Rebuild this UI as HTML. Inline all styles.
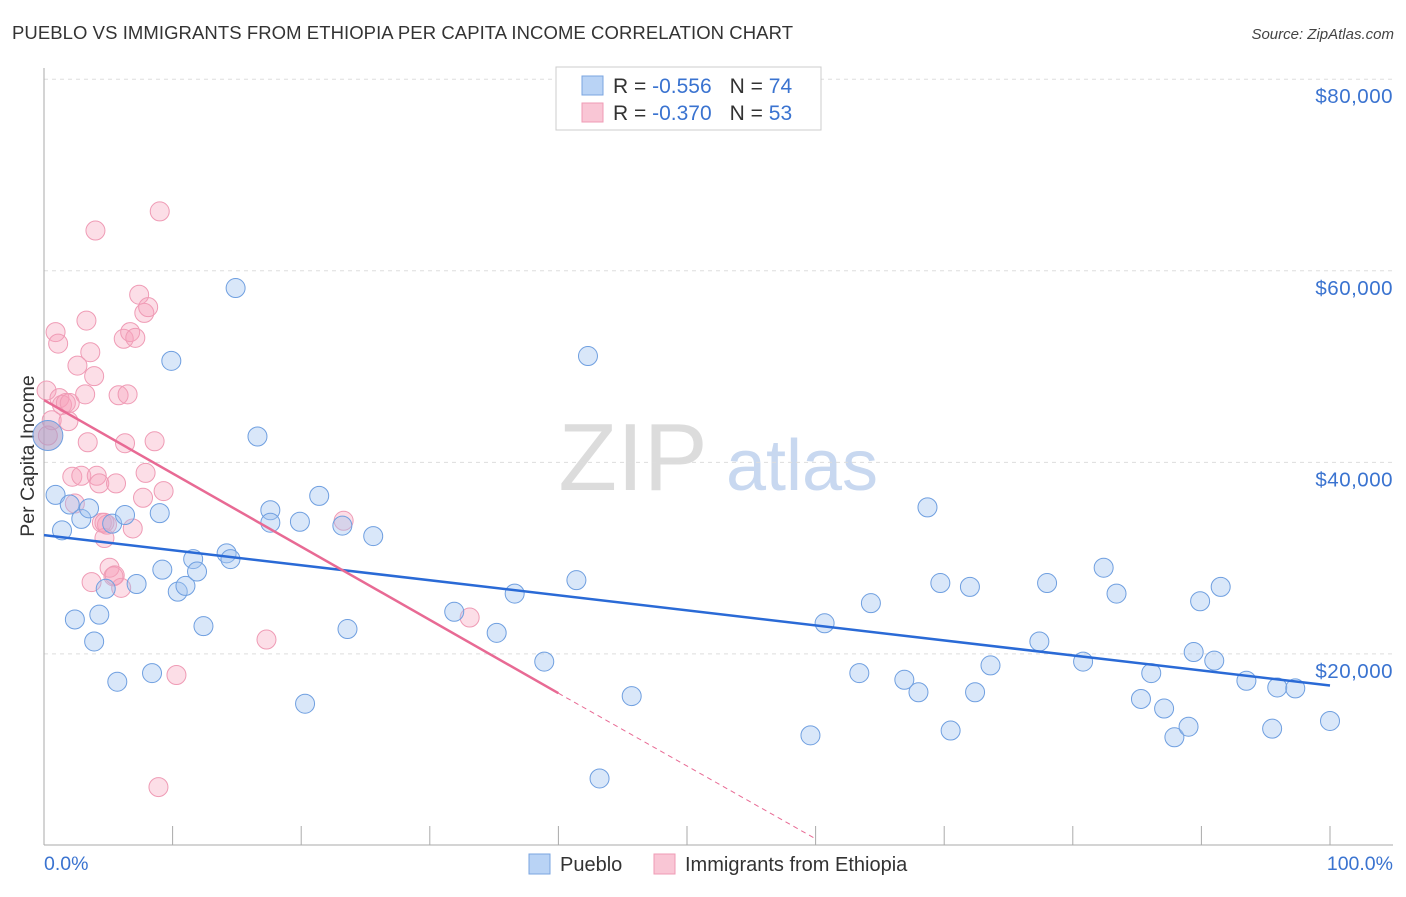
<!DOCTYPE html>
<html><head><meta charset="utf-8"><style>
body{margin:0;background:#fff;font-family:"Liberation Sans",sans-serif;}
svg text{font-family:"Liberation Sans",sans-serif;}
</style></head><body>
<svg id="chart" width="1406" height="892" viewBox="0 0 1406 892" xmlns="http://www.w3.org/2000/svg">
<text x="12" y="39" font-size="18.5" fill="#333" textLength="781">PUEBLO VS IMMIGRANTS FROM ETHIOPIA PER CAPITA INCOME CORRELATION CHART</text>
<text x="1394" y="39" font-size="15" font-style="italic" fill="#444" text-anchor="end">Source: ZipAtlas.com</text>
<text transform="translate(34,456) rotate(-90)" font-size="19.5" fill="#333" text-anchor="middle">Per Capita Income</text>
<g>
<text x="633" y="490" font-family="Liberation Serif,serif" font-size="96" fill="#dcdcdc" text-anchor="middle">ZIP</text>
<text x="802" y="490" font-size="72" fill="#c8d8f0" text-anchor="middle">atlas</text>
</g>
<g id="grid"></g>
<g id="axes"></g>
<g id="pink"></g>
<g id="blue"></g>
<g id="lines"></g>
<g>
<rect x="556" y="67" width="265" height="63" fill="#fff" stroke="#ccc"/>
<rect x="582" y="76" width="21" height="19" fill="#b9d3f5" stroke="#7aa5e0"/>
<rect x="582" y="103" width="21" height="19" fill="#f9c6d5" stroke="#ef9bb5"/>
<text x="613" y="93" font-size="21" fill="#333">R = <tspan fill="#3a73d0">-0.556</tspan><tspan dx="18">N = </tspan><tspan fill="#3a73d0">74</tspan></text>
<text x="613" y="120" font-size="21" fill="#333">R = <tspan fill="#3a73d0">-0.370</tspan><tspan dx="18">N = </tspan><tspan fill="#3a73d0">53</tspan></text>
</g>
<g>
<rect x="529" y="854" width="21" height="20" fill="#b9d3f5" stroke="#7aa5e0"/>
<text x="560" y="871" font-size="20" fill="#333">Pueblo</text>
<rect x="654" y="854" width="21" height="20" fill="#f9c6d5" stroke="#ef9bb5"/>
<text x="685" y="871" font-size="20" fill="#333">Immigrants from Ethiopia</text>
</g>
<text x="44" y="870" font-size="19.5" fill="#3a73d0">0.0%</text>
<text x="1393" y="870" font-size="19.5" fill="#3a73d0" text-anchor="end">100.0%</text>
</svg>
<script>
const yTicks=[20000,40000,60000,80000];
const yTickLabels=["$20,000","$40,000","$60,000","$80,000"];
const xTicks=[0,10,20,30,40,50,60,70,80,90,100];
const blueX=[0.9,1.4,2.0,2.4,2.9,3.5,3.9,4.3,4.8,5.3,5.7,6.3,7.2,8.4,9.0,9.2,9.9,10.4,11.0,11.6,11.9,12.4,14.2,14.5,14.9,16.6,17.6,17.6,19.9,20.3,21.4,23.2,23.6,25.6,31.9,35.2,36.6,38.9,41.4,42.3,43.2,45.7,59.6,60.7,63.4,64.3,66.9,68.0,68.7,69.7,70.5,72.0,72.4,73.6,77.4,78.0,80.8,82.4,83.4,85.3,86.1,87.1,87.9,89.0,89.4,89.9,91.0,91.5,93.5,95.5,95.9,97.3,100.0,0.3];
const blueY=[36600,32900,35600,23600,34100,35200,21300,24100,26800,33600,17100,34500,27300,18000,34700,28800,50600,26500,27100,29900,28600,22900,30500,29900,58200,42700,35000,33700,33800,14800,36500,33400,22600,32300,24400,22200,26300,19200,27700,51100,7000,15600,11500,23200,18000,25300,17300,16000,35300,27400,12000,27000,16000,18800,21300,27400,19200,29000,26300,15300,18000,14300,11300,12400,20200,25500,19300,27000,17200,12200,16500,16400,13000,42800];
const pinkX=[0.2,0.3,0.6,0.9,1.1,1.2,1.4,1.7,1.9,2.0,2.2,2.4,2.6,2.9,3.2,3.3,3.4,3.6,3.7,3.9,4.1,4.3,4.5,4.7,4.9,5.1,5.4,5.6,5.8,6.0,6.2,6.3,6.5,6.7,6.9,7.1,7.4,7.7,7.8,7.9,8.1,8.6,9.0,8.9,9.3,10.3,17.3,23.3,33.1,4.0,4.7,5.5];
const pinkY=[47500,42800,44400,53600,52400,46700,46000,46200,44300,46200,38500,35700,50100,38600,47100,54800,42100,51500,27500,49000,38600,37800,33700,32100,33500,29000,28100,37800,47000,26900,52900,42000,47100,53600,33100,53000,57500,36300,55600,38900,56200,42200,66200,6100,37000,17800,21500,33900,23800,64200,33700,28200];
const X=v=>44+v*12.86, Y=v=>845.5-v/104.4;
const NS="http://www.w3.org/2000/svg";
function mk(p,t,a){const e=document.createElementNS(NS,t);for(const k in a)e.setAttribute(k,a[k]);document.getElementById(p).appendChild(e);return e;}
yTicks.forEach((t,i)=>{
 const l=mk('grid','line',{x1:44,x2:1393,y1:Y(t),y2:Y(t),stroke:'#ddd','stroke-dasharray':'4,4'});
 
 
 const tx=mk('grid','text',{x:1393,y:Y(t)+24,'font-size':20.5,fill:'#3a73d0','text-anchor':'end','letter-spacing':'0.5'});
 tx.textContent=yTickLabels[i];
 
 
});
let ax=mk('axes','line',{x1:44,x2:44,y1:68,y2:845,stroke:'#aaa'});


ax=mk('axes','line',{x1:44,x2:1393,y1:845,y2:845,stroke:'#aaa'});


xTicks.forEach(t=>{
 const l=mk('axes','line',{x1:X(t),x2:X(t),y1:826,y2:845,stroke:'#aaa'});
 
 
});
pinkX.forEach((v,i)=>{
 const c=mk('pink','circle',{cx:X(v),cy:Y(pinkY[i]),r:9.5,fill:'rgba(245,160,185,0.35)',stroke:'#ef9bb5','stroke-width':1});
 
 
});
blueX.forEach((v,i)=>{
 const c=mk('blue','circle',{cx:X(v),cy:Y(blueY[i]),r:i==blueX.length-1?15:9.5,fill:i==blueX.length-1?'rgba(170,160,200,0.6)':'rgba(160,195,240,0.4)',stroke:'#6f9fe0','stroke-width':1});
 
 
});
let ln=mk('lines','line',{x1:X(0),y1:Y(32400),x2:X(100),y2:Y(16700),stroke:'#2a6ad6','stroke-width':2.5});


ln=mk('lines','line',{x1:X(0),y1:Y(46500),x2:X(40),y2:Y(15900),stroke:'#e86a94','stroke-width':2.5});


ln=mk('lines','line',{x1:X(40),y1:Y(15900),x2:X(60),y2:Y(700),stroke:'#e86a94','stroke-width':1,'stroke-dasharray':'5,4'});


</script>
</body></html>
